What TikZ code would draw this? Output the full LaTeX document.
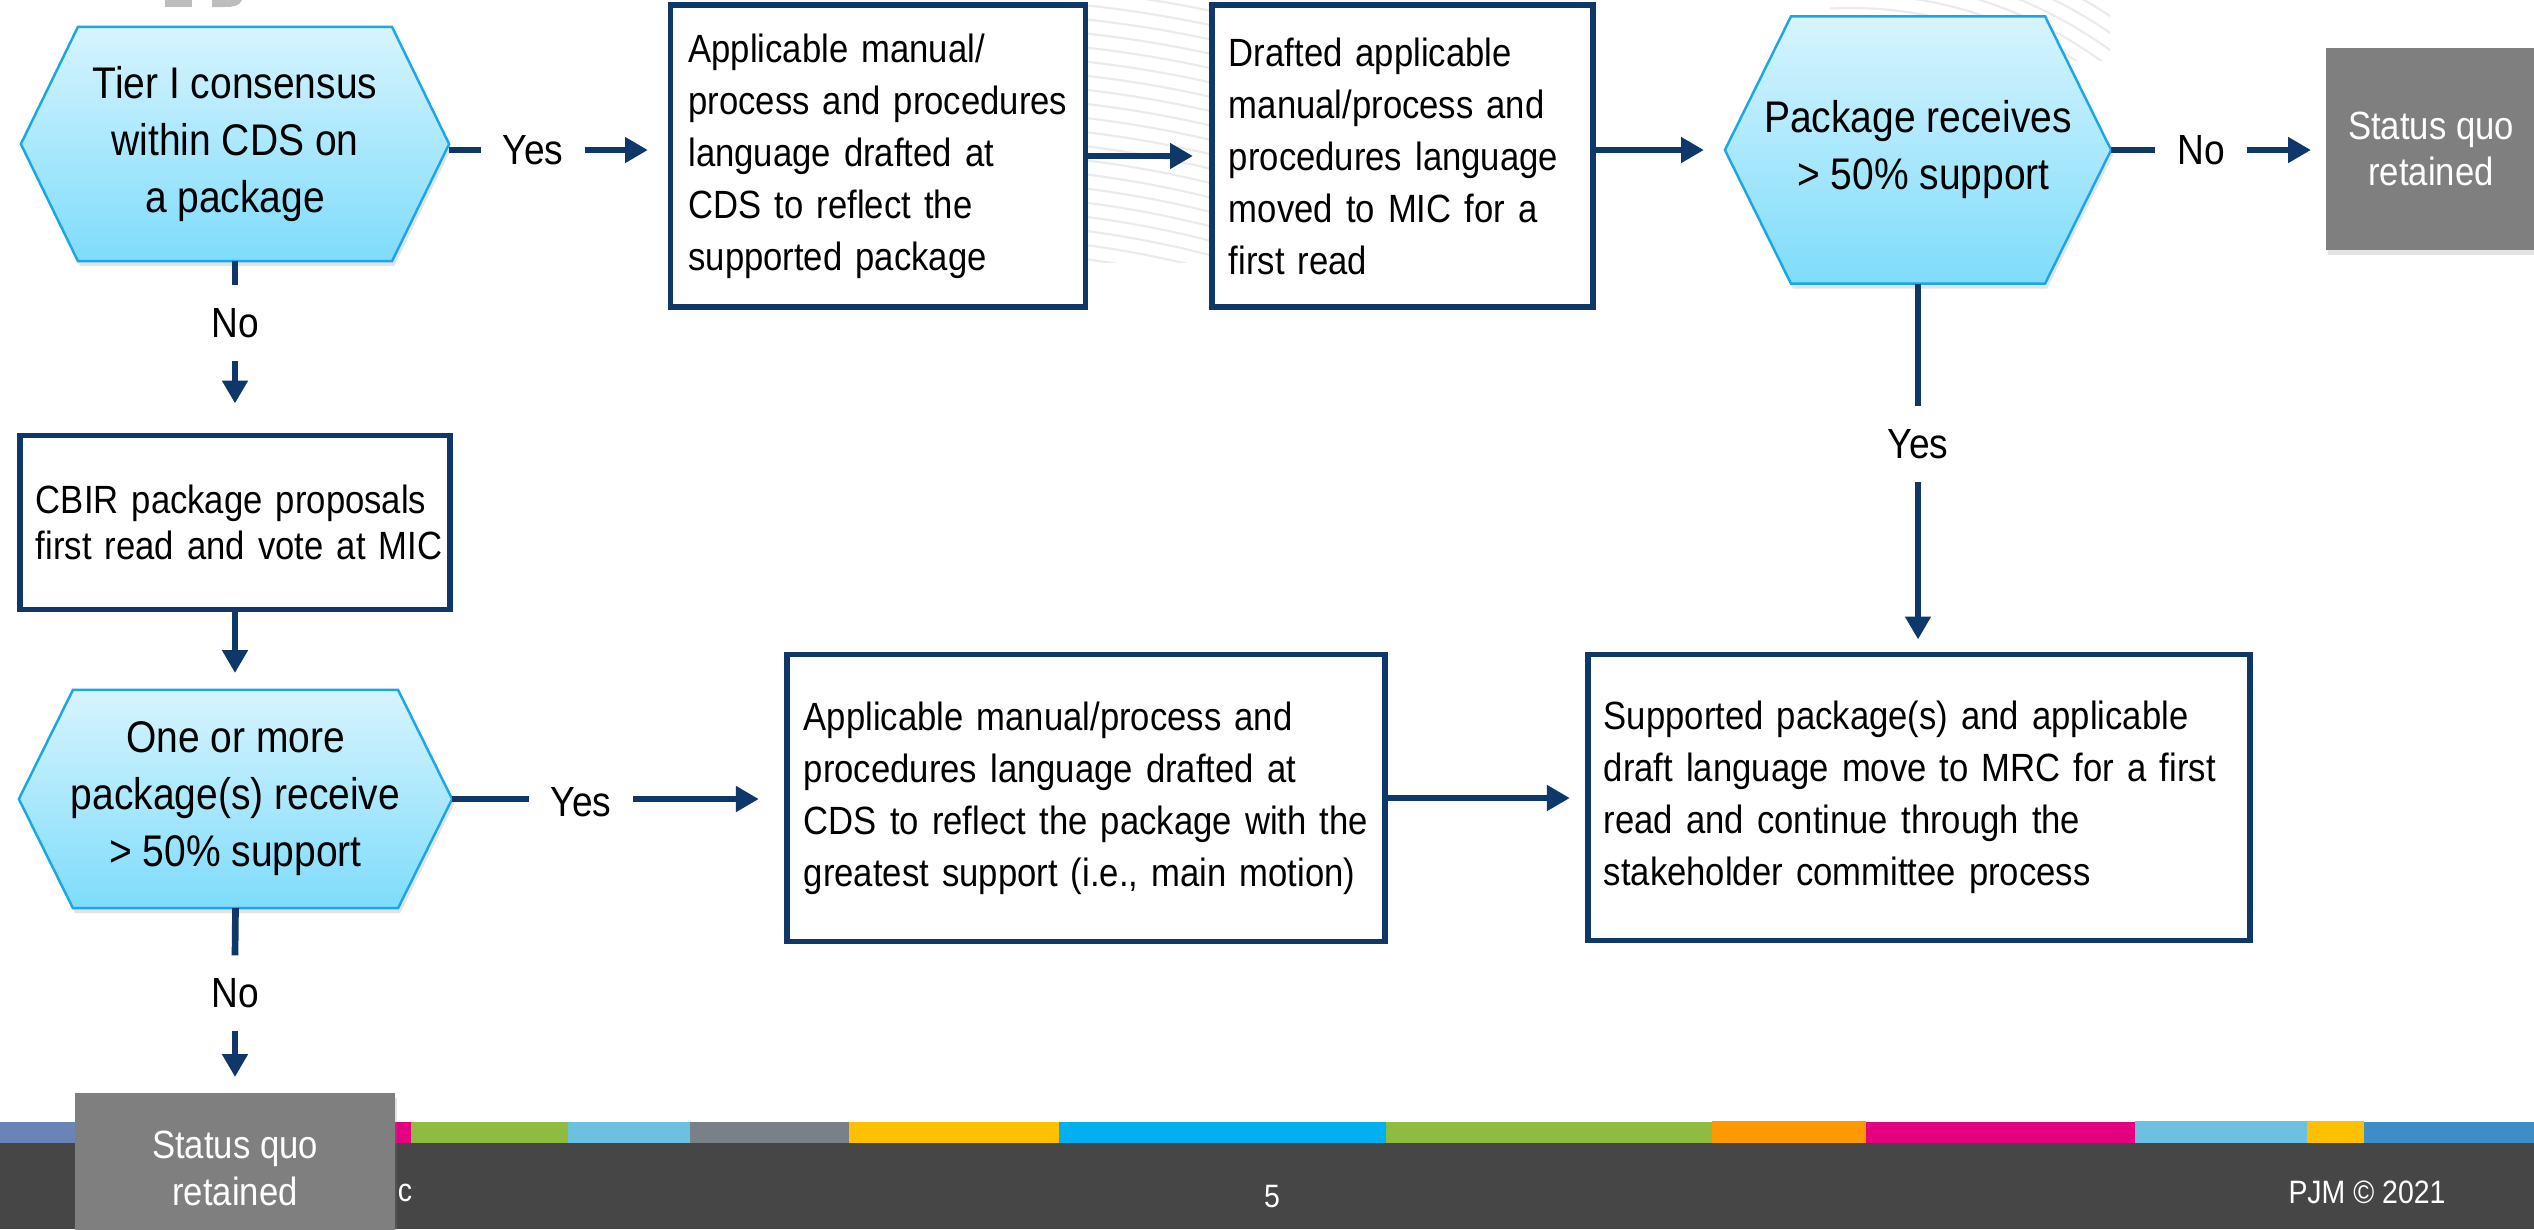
\documentclass[tikz,border=0pt]{standalone}
\usepackage{fontspec}
\setmainfont{Liberation Sans}[FakeStretch=0.88]
\usetikzlibrary{arrows.meta,backgrounds,shadows,calc}
\definecolor{navy}{HTML}{0D3869}
\definecolor{hexTop}{HTML}{D7F4FE}
\definecolor{hexBot}{HTML}{7EDCFB}
\definecolor{hexLine}{HTML}{1BA6E6}
\definecolor{boxgray}{HTML}{7F7F7F}
\definecolor{footdark}{HTML}{464646}
\definecolor{swirlgray}{HTML}{EBEBEB}
\definecolor{logogray}{HTML}{BDBDBD}
\definecolor{stSlate}{HTML}{6A84B8}
\definecolor{stMagenta}{HTML}{E4007F}
\definecolor{stGreen}{HTML}{8FBB40}
\definecolor{stLblue}{HTML}{6CC0E0}
\definecolor{stGray}{HTML}{7A8088}
\definecolor{stAmber}{HTML}{FFC000}
\definecolor{stCyan}{HTML}{00B0F0}
\definecolor{stOrange}{HTML}{FF9900}
\definecolor{stBlue}{HTML}{3D8EC7}
\newcommand\boxfont{\fontsize{11.2pt}{14.8pt}\selectfont}
\newcommand\cbirfont{\fontsize{11.2pt}{13.1pt}\selectfont}
\newcommand\hexfont{\fontsize{12.6pt}{16.2pt}\selectfont}
\newcommand\lblfont{\fontsize{12pt}{14pt}\selectfont}
\newcommand\grayfont{\fontsize{11.2pt}{13.2pt}\selectfont}
\newcommand\footfont{\fontsize{9.2pt}{11pt}\selectfont}
\tikzset{
  procbox/.style={draw=navy, line width=1.6pt, fill=white, align=left,
    inner sep=0pt, outer sep=0pt, font=\boxfont},
  hexnode/.style={align=center, inner sep=0pt, outer sep=0pt, font=\hexfont},
  hexshape/.style={top color=hexTop, bottom color=hexBot, draw=hexLine,
    line width=0.7pt, line join=miter,
    drop shadow={opacity=0.22, shadow xshift=0.6pt, shadow yshift=-1.4pt}},
  lbl/.style={font=\lblfont, inner xsep=0.22cm, inner ysep=0.23cm, outer sep=0pt},
  stub/.style={draw=navy, line width=1.9pt},
  flow/.style={draw=navy, line width=1.8pt, -{Triangle[length=6.5pt,width=7pt]}},
  graybox/.style={fill=boxgray, text=white, align=center, inner sep=0pt,
    outer sep=0pt, font=\grayfont,
    drop shadow={opacity=0.22, shadow xshift=0.6pt, shadow yshift=-1.4pt}},
  swirl/.style={draw=swirlgray, line width=0.6pt},
  foot/.style={text=white, font=\footfont, inner sep=0pt}
}
\newcommand\hexdraw[2]{%
  \begin{scope}[on background layer]
    \path[hexshape] (#1.west) -- ([xshift=#2]#1.north west)
      -- ([xshift=-#2]#1.north east) -- (#1.east)
      -- ([xshift=-#2]#1.south east) -- ([xshift=#2]#1.south west) -- cycle;
  \end{scope}}
\begin{document}
\begin{tikzpicture}[x=0.01cm, y=-0.01cm]
\useasboundingbox (0,0) rectangle (2534,1229);
\begin{scope}[on background layer]
  \fill[white] (0,0) rectangle (2534,1229);
  \begin{scope}
    \clip (1080,0) rectangle (1215,262);
    \foreach \r in {1000,1014,...,1280} \draw[swirl] (950,1250) circle[radius=\r];
  \end{scope}
  \begin{scope}
    \clip (1830,0) rectangle (2110,60);
    \foreach \r in {360,374,...,480} \draw[swirl] (1850,410) circle[radius=\r];
  \end{scope}
  \fill[logogray] (165,0) rectangle (192,7);
  \fill[logogray] (212,0) -- (242,0) .. controls (240,6) and (232,7) .. (224,7) -- (212,7) -- cycle;
\end{scope}

% top row
\node[hexnode, minimum width=4.28cm, minimum height=2.34cm] (h1) at (235,144)
  {Tier I consensus\\within CDS on\\a package};
\hexdraw{h1}{0.57cm}
\node[lbl] (yes1) at (533,150) {Yes};
\node[procbox, minimum width=4.15cm, minimum height=3.02cm, text width=3.79cm] (b1) at (878,156)
  {Applicable manual/\\process and procedures\\language drafted at\\CDS to reflect the\\supported package};
\node[procbox, minimum width=3.81cm, minimum height=3.02cm, text width=3.47cm] (b2) at (1402.5,156)
  {Drafted applicable\\manual/process and\\procedures language\\moved to MIC for a\\first read};
\node[hexnode, minimum width=3.86cm, minimum height=2.67cm] (h3) at (1918,150)
  {Package receives\\\ > 50\% support};
\hexdraw{h3}{0.66cm}
\node[lbl] (no3) at (2201,150) {No};
\node[graybox, minimum width=2.1cm, minimum height=2.02cm] (q1) at (2431,149)
  {Status quo\\retained};
\node[lbl] (yes3) at (1918,444) {Yes};
\node[procbox, minimum width=6.62cm, minimum height=2.86cm, text width=6.30cm] (b4) at (1919,797.5)
  {Supported package(s) and applicable\\draft language move to MRC for a first\\read and continue through the\\stakeholder committee process};

% left column
\node[lbl] (no1) at (235,323) {No};
\node[procbox, minimum width=4.30cm, minimum height=1.74cm, text width=3.98cm, font=\cbirfont] (cbir) at (235,522.5)
  {\mbox{CBIR package proposals}\\\mbox{first read and vote at MIC}};
\node[hexnode, minimum width=4.33cm, minimum height=2.18cm] (h2) at (235.5,799)
  {One or more\\package(s) receive\\> 50\% support};
\hexdraw{h2}{0.54cm}
\node[lbl] (yes2) at (581,802) {Yes};
\node[procbox, minimum width=5.98cm, minimum height=2.87cm, text width=5.64cm] (b3) at (1086,798)
  {Applicable manual/process and\\procedures language drafted at\\CDS to reflect the package with the\\greatest support (i.e., main motion)};
\node[lbl] (no2) at (235,993) {No};

% connectors
\draw[stub] (h1.east |- yes1.west) -- (yes1.west);
\draw[flow, shorten >=0.225cm] (yes1.east) -- (yes1.east -| b1.west);
\draw[flow, shorten >=0.19cm] (b1.east) -- (b2.west);
\draw[flow, shorten >=0.21cm] (b2.east |- h3.west) -- (h3.west);
\draw[stub] (h3.east) -- (no3.west);
\draw[flow, shorten >=0.15cm] (no3.east) -- (no3.east -| q1.west);
\draw[stub] (h3.south) -- (yes3.north);
\draw[flow, shorten >=0.15cm] (yes3.south) -- (yes3.south |- b4.north);
\draw[stub] (h1.south) -- (no1.north);
\draw[flow, shorten >=0.32cm] (no1.south) -- (no1.south |- cbir.north);
\draw[flow, shorten >=0.17cm] (cbir.south) -- (cbir.south |- h2.north);
\draw[stub] (h2.east) -- (h2.east -| yes2.west);
\draw[flow, shorten >=0.28cm] (yes2.east |- h2.east) -- (h2.east -| b3.west);
\draw[flow, shorten >=0.18cm] (b3.east) -- (b3.east -| b4.west);
\draw[stub] (h2.south) -- (no2.north);

% footer
\fill[footdark] (0,1143) rectangle (2534,1229);
\fill[stSlate] (0,1122) rectangle (300,1143);
\fill[stMagenta] (300,1122) rectangle (411,1143);
\fill[stGreen] (411,1122) rectangle (568,1143);
\fill[stLblue] (568,1122) rectangle (690,1143);
\fill[stGray] (690,1122) rectangle (849,1143);
\fill[stAmber] (849,1122) rectangle (1059,1143);
\fill[stCyan] (1059,1122) rectangle (1386,1143);
\fill[stGreen] (1386,1122) rectangle (1712,1143);
\fill[stOrange] (1712,1121) rectangle (1866,1143);
\fill[stMagenta] (1866,1122) rectangle (2135,1143);
\fill[stLblue] (2135,1121) rectangle (2307,1143);
\fill[stAmber] (2307,1121) rectangle (2364,1143);
\fill[stBlue] (2364,1122) rectangle (2534,1143);
\node[foot] (fc) at (405,1193) {c};
\node[foot] (fnum) at (1272,1196) {5};
\node[foot] (fcopy) at (2367,1192) {PJM © 2021};
\node[graybox, minimum width=3.2cm, minimum height=1.51cm] (q2) at (235,1168.5)
  {Status quo\\retained};
\draw[flow, shorten >=0.16cm] (no2.south) -- (no2.south |- q2.north);
\end{tikzpicture}
\end{document}
